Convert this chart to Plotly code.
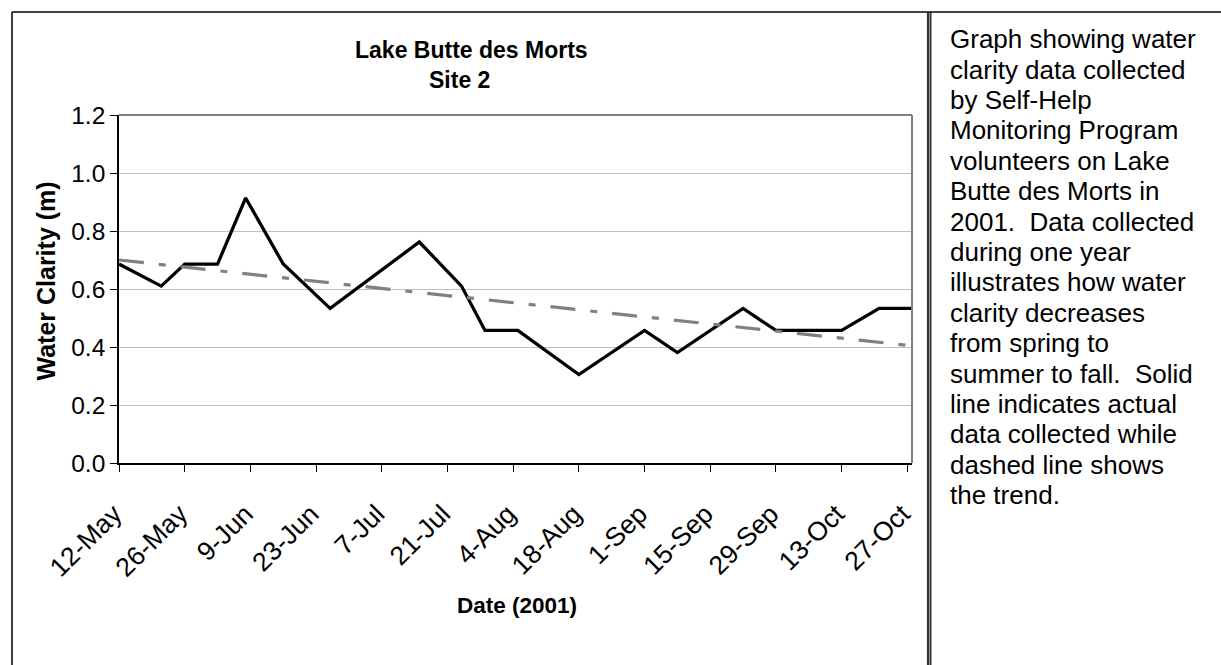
import plotly.graph_objects as go

# ---- data ----
dates = ["2001-05-12", "2001-05-21", "2001-05-26", "2001-06-02", "2001-06-08",
         "2001-06-16", "2001-06-26", "2001-07-15", "2001-07-24", "2001-07-29",
         "2001-08-05", "2001-08-18", "2001-09-01", "2001-09-08", "2001-09-22",
         "2001-09-29", "2001-10-13", "2001-10-21", "2001-10-28"]
clarity = [0.686, 0.610, 0.686, 0.686, 0.914,
           0.686, 0.533, 0.762, 0.610, 0.457,
           0.457, 0.305, 0.457, 0.381, 0.533,
           0.457, 0.457, 0.533, 0.533]
trend_dates = ["2001-05-12", "2001-10-28"]
trend_values = [0.700, 0.404]

title_line1 = "Lake Butte des Morts"
title_line2 = "Site 2"
y_title = "Water Clarity (m)"
x_title = "Date (2001)"
caption_lines = [
    "Graph showing water", "clarity data collected", "by Self-Help",
    "Monitoring Program", "volunteers on Lake", "Butte des Morts in",
    "2001.  Data collected", "during one year", "illustrates how water",
    "clarity decreases", "from spring to", "summer to fall.  Solid",
    "line indicates actual", "data collected while", "dashed line shows",
    "the trend.",
]

# ---- layout geometry (pixels) ----
FW, FH = 1221, 665
L, R, T, B = 119, 309, 115, 202
PW, PH = FW - L - R, FH - T - B
FONT = "Liberation Sans, Arial, sans-serif"


def px(x):
    return (x - L) / PW


def py(y):
    return 1 - (y - T) / PH


fig = go.Figure()
fig.add_trace(go.Scatter(x=dates, y=clarity, mode="lines",
                         line=dict(color="black", width=3.3),
                         showlegend=False, hoverinfo="skip"))
fig.add_trace(go.Scatter(x=trend_dates, y=trend_values, mode="lines",
                         line=dict(color="#808080", width=3.2,
                                   dash="25px,15px,7px,15px"),
                         showlegend=False, hoverinfo="skip"))

fig.update_xaxes(type="date", range=["2001-05-12", "2001-10-28"],
                 tick0="2001-05-12", dtick=14 * 86400000, tickformat="%-d-%b",
                 tickangle=-45, ticks="outside", ticklen=7, tickcolor="black",
                 ticklabelstandoff=16, ticklabelshift=-5,
                 showgrid=False, showline=True, linecolor="black", linewidth=1.8,
                 tickfont=dict(family=FONT, size=26.5, color="black"),
                 zeroline=False)
fig.update_yaxes(range=[0, 1.2], dtick=0.2, tickformat=".1f",
                 ticks="outside", ticklen=7, tickcolor="black",
                 showgrid=True, gridcolor="#c0c0c0", gridwidth=1,
                 showline=True, linecolor="black", linewidth=1.8,
                 tickfont=dict(family=FONT, size=24.5, color="black"),
                 zeroline=False)

shapes = [
    # plot area top and right border (gray)
    dict(type="line", xref="paper", yref="paper", x0=0, x1=1, y0=1, y1=1,
         line=dict(color="#808080", width=2)),
    dict(type="line", xref="paper", yref="paper", x0=1, x1=1, y0=0, y1=1,
         line=dict(color="#808080", width=2)),
    # outer table frame
    dict(type="line", xref="paper", yref="paper", x0=px(12), x1=px(12),
         y0=py(12), y1=py(FH + 5), line=dict(color="black", width=1.5)),
    dict(type="line", xref="paper", yref="paper", x0=px(12), x1=px(FW + 5),
         y0=py(12), y1=py(12), line=dict(color="black", width=1.5)),
    dict(type="line", xref="paper", yref="paper", x0=px(928.2), x1=px(928.2),
         y0=py(12), y1=py(FH + 5), line=dict(color="#303030", width=2.6)),
    dict(type="line", xref="paper", yref="paper", x0=px(930.8), x1=px(930.8),
         y0=py(12), y1=py(FH + 5), line=dict(color="black", width=1.2)),
]

annotations = [
    dict(text=f"<b>{title_line1}</b>", x=px(471), y=py(50), xref="paper", yref="paper",
         xanchor="center", yanchor="middle", showarrow=False,
         font=dict(family=FONT, size=23, color="black")),
    dict(text=f"<b>{title_line2}</b>", x=px(459), y=py(80), xref="paper", yref="paper",
         xanchor="center", yanchor="middle", showarrow=False,
         font=dict(family=FONT, size=23, color="black")),
    dict(text=f"<b>{y_title}</b>", x=px(45), y=py(281.5), xref="paper", yref="paper",
         xanchor="center", yanchor="middle", showarrow=False, textangle=-90,
         font=dict(family=FONT, size=25, color="black")),
    dict(text=f"<b>{x_title}</b>", x=px(517), y=py(605), xref="paper", yref="paper",
         xanchor="center", yanchor="middle", showarrow=False,
         font=dict(family=FONT, size=22.5, color="black")),
]
for i, line in enumerate(caption_lines):
    baseline = 48.3 + i * 30.4
    annotations.append(dict(text=line, x=px(948), y=py(baseline - 9.1),
                            xref="paper", yref="paper", xanchor="left",
                            yanchor="middle", showarrow=False,
                            font=dict(family=FONT, size=26, color="black")))

fig.update_layout(width=FW, height=FH, margin=dict(l=L, r=R, t=T, b=B, pad=0),
                  paper_bgcolor="white", plot_bgcolor="white",
                  shapes=shapes, annotations=annotations, showlegend=False)

# remove the browser's default 8px page margin so the figure sits at (0, 0)
fig.write_html("out.html",
               config={"displayModeBar": False, "staticPlot": True},
               post_script="document.body.style.margin='0';"
                           "document.body.style.overflow='hidden';")
